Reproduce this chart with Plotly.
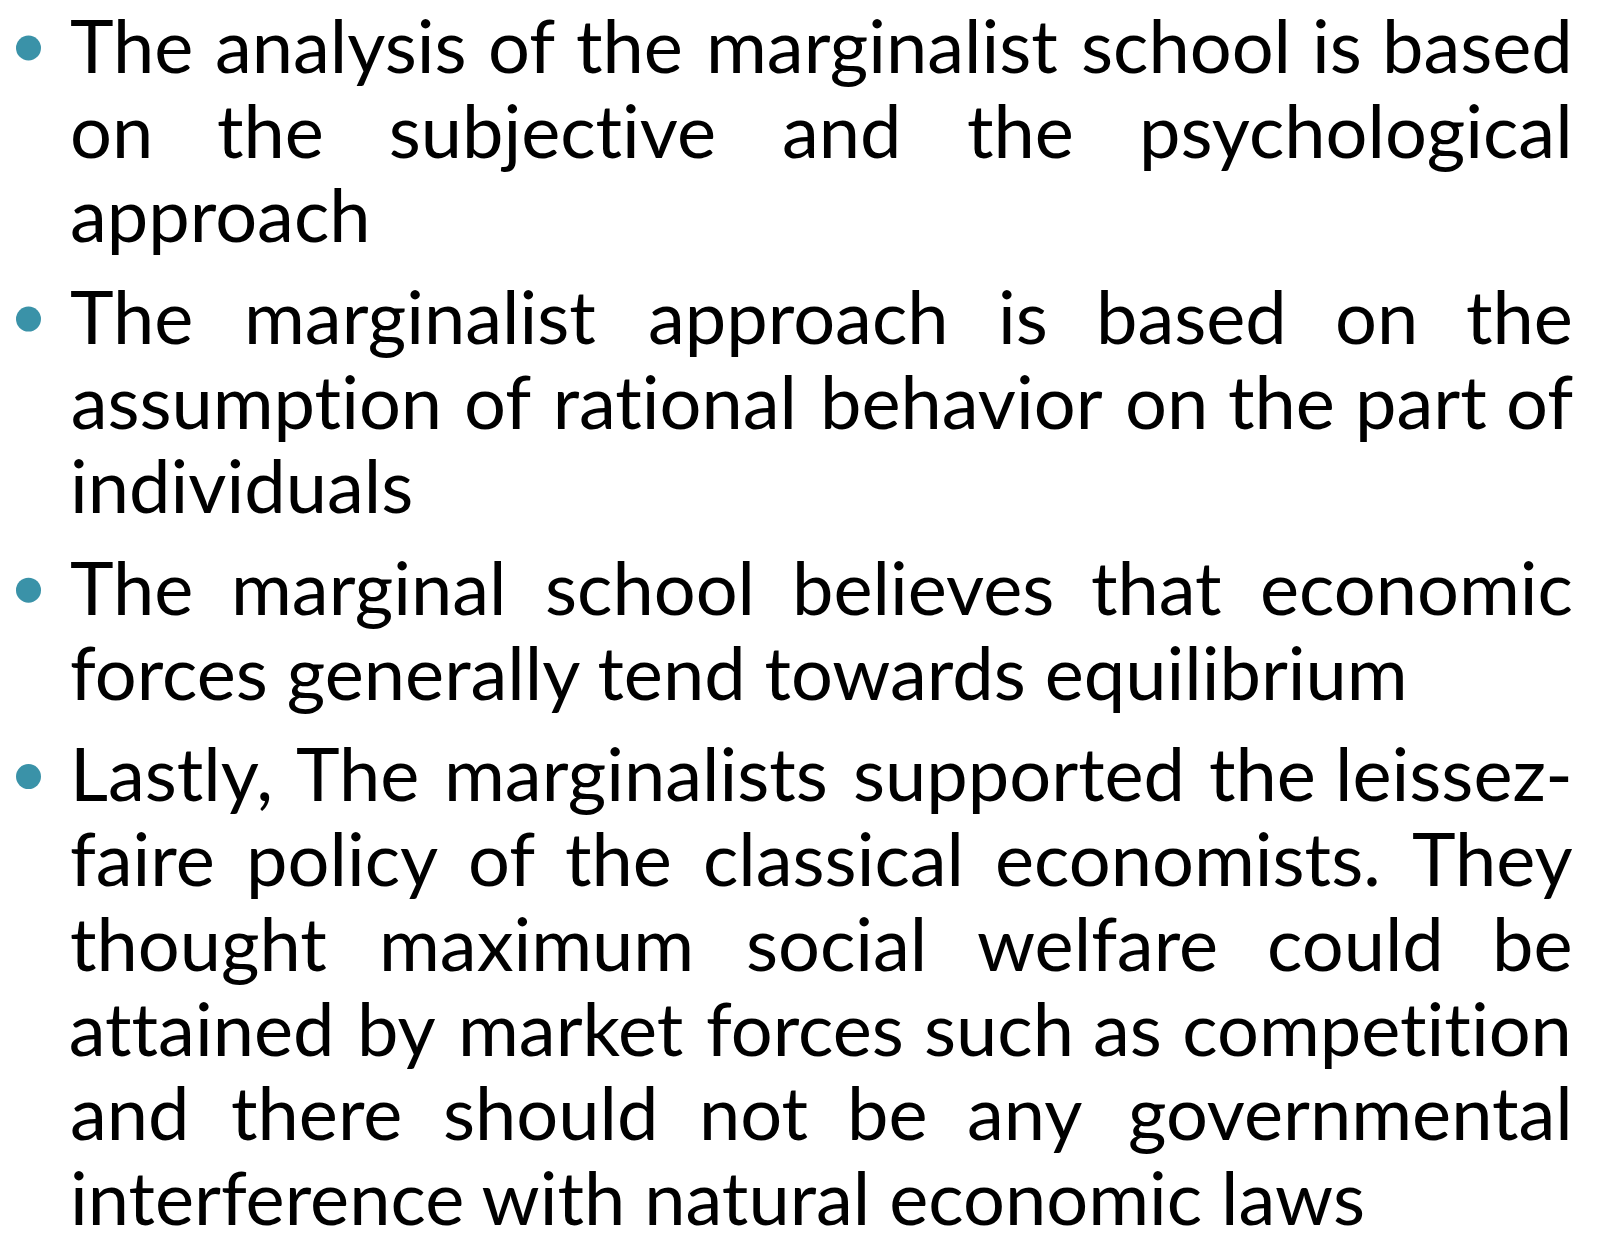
import plotly.graph_objects as go

# ---- content (text lines as laid out on the slide) ----
para1 = ["The analysis of the marginalist school is based",
         "on the subjective and the psychological",
         "approach"]
para2 = ["The marginalist approach is based on the",
         "assumption of rational behavior on the part of",
         "individuals"]
para3 = ["The marginal school believes that economic",
         "forces generally tend towards equilibrium"]
para4 = ["Lastly, The marginalists supported the leissez-",
         "faire policy of the classical economists. They",
         "thought maximum social welfare could be",
         "attained by market forces such as competition",
         "and there should not be any governmental",
         "interference with natural economic laws"]
paragraphs = [para1, para2, para3, para4]

# ---- style / layout ----
W, H = 1598, 1242
FONT = "Lato"
FS = 74
TEXT_COLOR = "#000000"
BULLET_COLOR = "#3A92A8"
LEFT, RIGHT = 69, 1574
FIRST_BASELINE = 73
LINE_PITCH = 84.7
PARA_GAP = 17
BULLET_X = 28.5
BULLET_RISE = 25
BULLET_SIZE = 25

# approximate advance widths (em) for the rendering font
EM = {'a': .507, 'b': .567, 'c': .475, 'd': .567, 'e': .525, 'f': .330, 'g': .505,
      'h': .567, 'i': .240, 'j': .240, 'k': .515, 'l': .240, 'm': .845, 'n': .567,
      'o': .570, 'p': .560, 'q': .567, 'r': .380, 's': .430, 't': .362, 'u': .567,
      'v': .515, 'w': .780, 'x': .505, 'y': .515, 'z': .460, 'T': .595, 'L': .500,
      ',': .21, '.': .21, '-': .345}


def width(word):
    return sum(EM.get(c, .5) for c in word) * FS


annotations = []
bx, by = [], []
k = 0
y_min = 0.6 * FS + 0.5          # keep the text boxes inside the page
y_max = H - 0.6 * FS - 0.5
for p, lines in enumerate(paragraphs):
    for li, line in enumerate(lines):
        base = FIRST_BASELINE + LINE_PITCH * k + PARA_GAP * p
        yc = min(max(base - 0.387 * FS, y_min), y_max)
        if li == 0:
            bx.append(BULLET_X)
            by.append(base - BULLET_RISE)
        font = dict(family=FONT, size=FS, color=TEXT_COLOR)
        common = dict(y=yc, yanchor="middle", showarrow=False, font=font,
                      xref="x", yref="y", borderpad=0)
        last = li == len(lines) - 1
        if last:
            annotations.append(dict(x=LEFT, text=line, xanchor="left", **common))
        else:
            words = line.split(" ")
            ws = [width(w) for w in words]
            gap = (RIGHT - LEFT - sum(ws)) / (len(words) - 1)
            pos = LEFT
            for i, (w, wd) in enumerate(zip(words, ws)):
                if i == 0:
                    x, anc = LEFT, "left"
                elif i == len(words) - 1:
                    x, anc = RIGHT, "right"
                else:
                    x, anc = pos + wd / 2, "center"
                annotations.append(dict(x=x, text=w, xanchor=anc, **common))
                pos += wd + gap
        k += 1

fig = go.Figure()
fig.add_trace(go.Scatter(x=bx, y=by, mode="markers", hoverinfo="skip",
                         marker=dict(size=BULLET_SIZE, color=BULLET_COLOR, line=dict(width=0))))
fig.update_layout(
    width=W, height=H, margin=dict(l=0, r=0, t=0, b=0),
    paper_bgcolor="white", plot_bgcolor="white", showlegend=False,
    xaxis=dict(range=[0, W], visible=False, fixedrange=True),
    yaxis=dict(range=[H, 0], visible=False, fixedrange=True),
    annotations=annotations,
)
post = ("document.body.style.margin='0';document.body.style.overflow='hidden';"
        "document.querySelectorAll('text').forEach(function(t){"
        "t.style.fontVariantLigatures='none';t.style.fontFeatureSettings='\"liga\" 0, \"clig\" 0';});")
fig.write_html("out.html", config={"displayModeBar": False}, post_script=post)
